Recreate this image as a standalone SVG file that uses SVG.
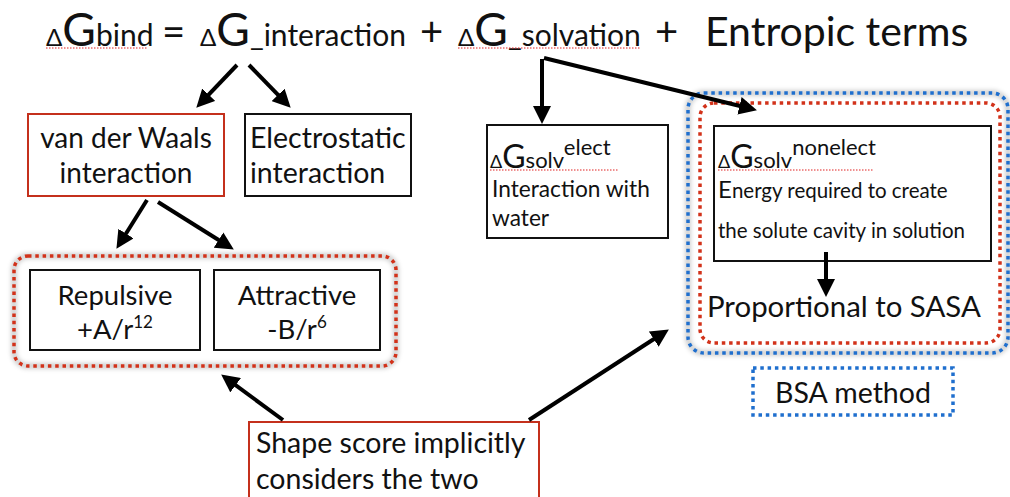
<svg xmlns="http://www.w3.org/2000/svg" width="1010" height="497" viewBox="0 0 1010 497">
<style>
text{font-family:"Lato","Open Sans","Liberation Sans",sans-serif;fill:#111}
.box{fill:#fff;stroke:#111;stroke-width:2}
.rbox{fill:#fff;stroke:#c4301c;stroke-width:2}
.dotr{fill:none;stroke:#d2321a;stroke-width:3.5;stroke-dasharray:3.5 3.8}
.dotb{fill:none;stroke:#1f6fce;stroke-width:3.5;stroke-dasharray:3.5 3.8}
.glow{fill:none;stroke:#000;stroke-opacity:0.18;stroke-width:6}
.sq{fill:none;stroke:#e02020;stroke-width:1;stroke-dasharray:1.5 1.5}
.arr{fill:none;stroke:#000;stroke-width:4;marker-end:url(#ah)}
</style>
<defs>
<marker id="ah" viewBox="0 0 10 10" refX="5" refY="5" markerWidth="18" markerHeight="18" markerUnits="userSpaceOnUse" orient="auto">
<path d="M0,0 L10,5 L0,10 z" fill="#000"/>
</marker>
<filter id="blur" x="-10%" y="-10%" width="120%" height="120%"><feGaussianBlur stdDeviation="2"/></filter>
</defs>

<g id="title">
<text y="46"><tspan x="46" font-size="24">Δ</tspan><tspan font-size="46">G</tspan><tspan font-size="30">bind</tspan><tspan font-size="40" x="162">=</tspan><tspan font-size="24" x="200">Δ</tspan><tspan font-size="46">G</tspan><tspan font-size="30">_interaction</tspan><tspan font-size="40" x="420">+</tspan><tspan font-size="24" x="458">Δ</tspan><tspan font-size="46">G</tspan><tspan font-size="30">_solvation</tspan><tspan font-size="40" x="655">+</tspan><tspan font-size="41" x="705">Entropic terms</tspan></text>
<line class="sq" x1="46" y1="48" x2="148" y2="48"/>
<line class="sq" x1="458" y1="48" x2="640" y2="48"/>
</g>

<g id="vdw">
<rect class="rbox" x="28" y="114" width="196" height="82"/>
<text x="126" y="148" font-size="28" text-anchor="middle">van der Waals</text>
<text x="126" y="183" font-size="28" text-anchor="middle">interaction</text>
</g>

<g id="electrostatic">
<rect class="box" x="245" y="114" width="166" height="82"/>
<text x="250" y="148" font-size="28.5">Electrostatic</text>
<text x="250" y="183" font-size="28.5">interaction</text>
</g>

<g id="lj-group">
<rect class="glow" x="14" y="256" width="382" height="110" rx="14" filter="url(#blur)"/>
<rect class="dotr" x="14" y="256" width="382" height="110" rx="14"/>
</g>

<g id="repulsive">
<rect class="box" x="30" y="270" width="170" height="80"/>
<text x="115" y="305" font-size="27.5" text-anchor="middle">Repulsive</text>
<text x="115" y="339" font-size="27.5" text-anchor="middle">+A/r<tspan font-size="17" dy="-11">12</tspan></text>
</g>

<g id="attractive">
<rect class="box" x="214" y="270" width="166" height="80"/>
<text x="297" y="305" font-size="27.5" text-anchor="middle">Attractive</text>
<text x="297" y="339" font-size="27.5" text-anchor="middle">-B/r<tspan font-size="17" dy="-11">6</tspan></text>
</g>

<g id="solv-elect">
<rect class="box" x="487" y="125" width="181" height="113"/>
<text y="168"><tspan x="490" font-size="18">Δ</tspan><tspan font-size="32">G</tspan><tspan font-size="22">solv</tspan><tspan font-size="22" dy="-13">elect</tspan></text>
<line class="sq" x1="490" y1="170" x2="619" y2="170"/>
<text x="492" y="197" font-size="22.7">Interaction with</text>
<text x="492" y="226" font-size="22.7">water</text>
</g>

<g id="bsa-group">
<rect class="glow" x="688" y="93" width="320" height="260" rx="16" filter="url(#blur)"/>
<rect class="dotb" x="688" y="93" width="320" height="260" rx="16"/>
<rect class="dotr" x="700" y="103" width="300" height="240" rx="14"/>
</g>

<g id="solv-nonelect">
<rect class="box" x="714" y="126" width="277" height="135"/>
<text y="168"><tspan x="718" font-size="18">Δ</tspan><tspan font-size="32">G</tspan><tspan font-size="22">solv</tspan><tspan font-size="22" dy="-13">nonelect</tspan></text>
<line class="sq" x1="718" y1="170" x2="874" y2="170"/>
<text x="718" y="198" font-size="20.5"><tspan font-size="24">E</tspan>nergy required to create</text>
<text x="718" y="238" font-size="20.5">the solute cavity in solution</text>
</g>

<g id="sasa">
<text x="707" y="317" font-size="29.4">Proportional to SASA</text>
</g>

<g id="bsa-method">
<rect class="dotb" x="753" y="368" width="200" height="47"/>
<text x="853" y="403" font-size="28.5" text-anchor="middle">BSA method</text>
</g>

<g id="shape-score">
<rect class="rbox" x="249" y="422" width="290" height="80"/>
<text x="256" y="453" font-size="28.5">Shape score implicitly</text>
<text x="256" y="489" font-size="28.5">considers the two</text>
</g>

<g id="connectors">
<line class="arr" x1="237" y1="65" x2="202.5" y2="101.2"/>
<line class="arr" x1="249" y1="65" x2="284.4" y2="101.3"/>
<line class="arr" x1="542" y1="59" x2="542" y2="115"/>
<line class="arr" x1="544" y1="58" x2="748.2" y2="108"/>
<line class="arr" x1="147" y1="200" x2="121.2" y2="241.2"/>
<line class="arr" x1="158" y1="202" x2="226.2" y2="244.8"/>
<line class="arr" x1="826" y1="252" x2="826" y2="288"/>
<line class="arr" x1="283" y1="420" x2="228.4" y2="379.8"/>
<line class="arr" x1="529" y1="420" x2="661.3" y2="334.3"/>
</g>
</svg>
